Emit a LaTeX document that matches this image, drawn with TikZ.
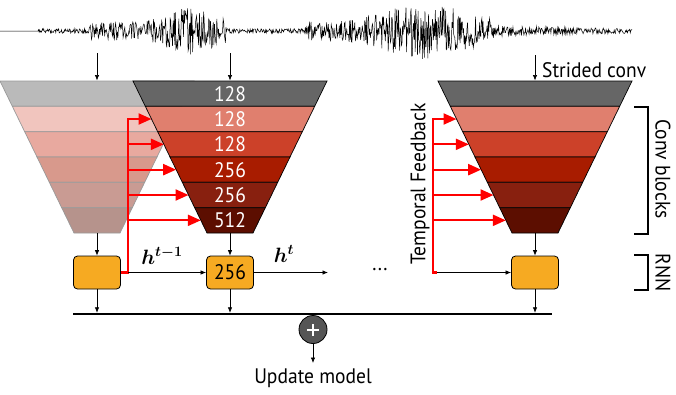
\documentclass[tikz,border=0pt]{standalone}
\usepackage{bm}
\usepackage{fontspec}
\setmainfont{PT Sans}[FakeStretch=0.93]
\usetikzlibrary{arrows.meta}
\definecolor{cg}{HTML}{666666}
\definecolor{ca}{HTML}{E07F6E}
\definecolor{cb}{HTML}{CC4129}
\definecolor{cc}{HTML}{A81C00}
\definecolor{cd}{HTML}{88200F}
\definecolor{ce}{HTML}{5C0E00}
\definecolor{orangebox}{HTML}{F6AA22}
\definecolor{plusgray}{HTML}{555555}
\newcommand\trapez[3]{%
  \foreach \i/\c in {0/cg,1/ca,2/cb,3/cc,4/cd,5/ce}{%
    \pgfmathsetmacro\ya{81+25.333*\i}%
    \pgfmathsetmacro\yb{\ya+25.333}%
    \pgfmathsetmacro\wa{97-(\ya-81)*0.48684}%
    \pgfmathsetmacro\wb{97-(\yb-81)*0.48684}%
    \filldraw[fill=\c!#2!white, draw=#3, line width=0.7pt]
      (#1-\wa,\ya) -- (#1+\wa,\ya) -- (#1+\wb,\yb) -- (#1-\wb,\yb) -- cycle;
  }}
\begin{document}
\begin{tikzpicture}[x=1pt,y=-1pt,
  declare function={env(\u)=(\u>38)*(\u<632)*(2.3+3*(\u>495)*(632-\u)/137)
     +(\u>88)*(\u<226)*(7+15*exp(max(-20,-((\u-190)/28)^2)))
     +(\u>305)*(\u<495)*(7+19*exp(max(-20,-((\u-425)/50)^2)));},
  arr/.style={-{Latex[length=5.5pt,width=4.5pt]}, line width=0.7pt},
  redarr/.style={-{Triangle[length=13pt,width=11pt]}, red, line width=2.2pt},
  rnn/.style={draw=black, line width=0.8pt, fill=orangebox, rounded corners=4pt,
    minimum width=47pt, minimum height=33pt, inner sep=0pt, font=\fontsize{21}{23}\selectfont},
  lbl/.style={font=\fontsize{21}{23}\selectfont, inner sep=1pt},
  mlbl/.style={font=\fontsize{20}{22}\selectfont, inner sep=1pt},
]
\useasboundingbox (0,0) rectangle (676,394);
\pgfmathsetseed{4242}
% waveform
\draw[line width=0.5pt] plot[domain=0:632, samples=1100] (\x, {31+env(\x)*(2*rnd-1)});

% trapezoids
\trapez{97}{45}{black!40}
\trapez{230}{100}{black}
\trapez{535}{100}{black}
\foreach \i/\t in {0/128,1/128,2/128,3/256,4/256,5/512}
  \node[lbl, text=white] (lab\i) at (230, {81+25.333*\i+12.667}) {\t};

% coordinates
\foreach \n/\cx in {L/97,M/230,R/535}{
  \coordinate (\n top) at (\cx,80.5);
  \coordinate (\n bot) at (\cx,233);
}
\coordinate (wL) at (97,53);
\coordinate (wM) at (230,53);
\coordinate (wR) at (535,55);
\draw[arr] (wL) -- (Ltop);
\draw[arr] (wM) -- (Mtop);
\draw[arr] (wR) -- (Rtop);
\node[lbl, anchor=west] (strided) at (541,70) {Strided conv};

% RNN boxes
\node[rnn] (rnnL) at (97,272.5) {};
\node[rnn] (rnnM) at (230,272.5) {256};
\node[rnn] (rnnR) at (535,272.5) {};
\draw[arr] (Lbot) -- (rnnL.north);
\draw[arr] (Mbot) -- (rnnM.north);
\draw[arr] (Rbot) -- (rnnR.north);

% feedback coordinates
\foreach \i in {1,...,5}{
  \pgfmathsetmacro\yc{81+25.333*(\i+0.5)}
  \pgfmathsetmacro\ww{97-(\yc-81)*0.48684}
  \coordinate (Lf\i) at (128,\yc);
  \coordinate (Me\i) at (230-\ww,\yc);
  \coordinate (Rf\i) at (433,\yc);
  \coordinate (Re\i) at (535-\ww,\yc);
}
\coordinate (Lcorner) at (128,272.5);
\coordinate (Rcorner) at (433,272.5);
\coordinate (Rstub) at (437,272.5);

% left feedback
\draw[redarr, line join=miter] (rnnL.east) -- (Lcorner) -- (Lf1) -- (Me1);
\foreach \i in {2,...,5} \draw[redarr] (Lf\i) -- (Me\i);
\draw[arr] (Lcorner) -- (rnnM.west);
% right feedback
\draw[redarr, line join=miter] (Rstub) -- (Rcorner) -- (Rf1) -- (Re1);
\foreach \i in {2,...,5} \draw[redarr] (Rf\i) -- (Re\i);
\draw[arr] (Rstub) -- (rnnR.west);
\node[lbl, rotate=90] (tf) at (420,184) {Temporal Feedback};

% hidden states
\node[mlbl] (hprev) at (162,256) {$\bm{h}^{\bm{t-1}}$};
\node[mlbl] (hcur) at (284,254) {$\bm{h}^{\bm{t}}$};
\coordinate (hend) at (328,272.5);
\draw[arr] (rnnM.east) -- (hend);
\node[lbl] (dots) at (380,270) {...};

% bar and sum
\coordinate (barL) at (73,314);
\coordinate (barR) at (552,314);
\draw[line width=2.5pt] (barL) -- (barR);
\draw[arr, shorten >=1.2pt] (rnnL.south) -- (rnnL.south |- barL);
\draw[arr, shorten >=1.2pt] (rnnM.south) -- (rnnM.south |- barL);
\draw[arr, shorten >=1.2pt] (rnnR.south) -- (rnnR.south |- barL);
\node[circle, draw=black, fill=plusgray, minimum size=28pt, inner sep=0pt, line width=0.8pt] (plus) at (313,329.5) {};
\draw[white, line width=2pt] ([xshift=-6pt]plus.center) -- ([xshift=6pt]plus.center);
\draw[white, line width=2pt] ([yshift=-6pt]plus.center) -- ([yshift=6pt]plus.center);
\coordinate (upd) at (313,363);
\draw[arr] (plus.south) -- (upd);
\node[lbl] (update) at (313,378) {Update model};

% brackets
\coordinate (cb1) at (634,107);
\coordinate (cb2) at (648,107);
\coordinate (cb3) at (648,234);
\coordinate (cb4) at (634,234);
\draw[line width=1.5pt] (cb1) -- (cb2) -- (cb3) -- (cb4);
\node[lbl, rotate=-90] (convlbl) at (663,169) {Conv blocks};
\coordinate (rb1) at (634,255);
\coordinate (rb2) at (648,255);
\coordinate (rb3) at (648,290);
\coordinate (rb4) at (634,290);
\draw[line width=1.5pt] (rb1) -- (rb2) -- (rb3) -- (rb4);
\node[lbl, rotate=-90] (rnnlbl) at (663,272.5) {RNN};
\end{tikzpicture}
\end{document}
